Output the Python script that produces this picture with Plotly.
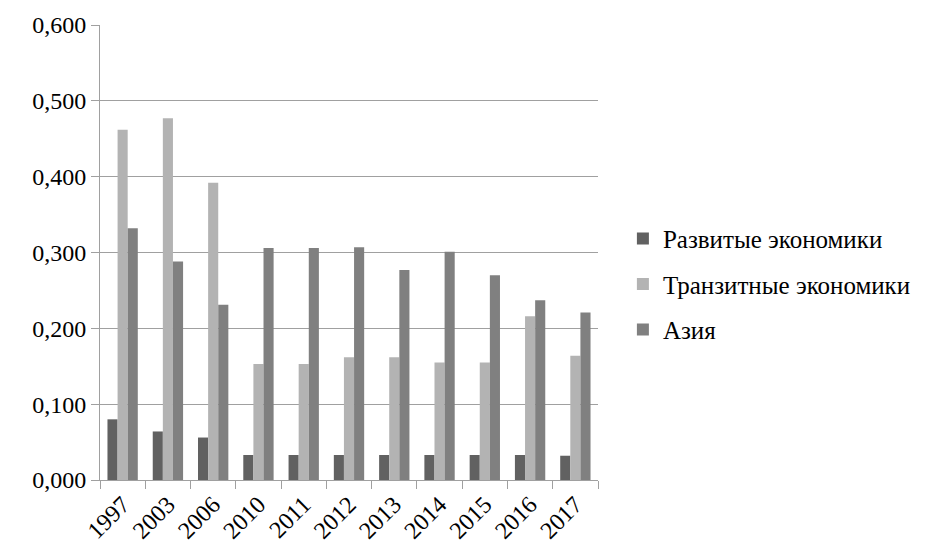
import plotly.graph_objects as go

years = ["1997", "2003", "2006", "2010", "2011", "2012", "2013", "2014", "2015", "2016", "2017"]
developed = [0.080, 0.064, 0.056, 0.033, 0.033, 0.033, 0.033, 0.033, 0.033, 0.033, 0.032]
transition = [0.462, 0.477, 0.392, 0.153, 0.153, 0.162, 0.162, 0.155, 0.155, 0.216, 0.164]
asia = [0.332, 0.288, 0.231, 0.306, 0.306, 0.307, 0.277, 0.301, 0.270, 0.237, 0.221]

names = ["Развитые экономики", "Транзитные экономики", "Азия"]
colors = ["#616161", "#b3b3b3", "#808080"]

fig = go.Figure()
for i, (name, vals, col) in enumerate(zip(names, [developed, transition, asia], colors)):
    fig.add_trace(go.Bar(x=years, y=vals, name=name, marker_color=col,
                         marker_line_width=0, legendgroup=str(i)))

font = "Liberation Serif, DejaVu Serif, serif"
fig.update_layout(
    template="none",
    width=920, height=539,
    margin=dict(l=92, r=328, t=17, b=67),
    paper_bgcolor="white", plot_bgcolor="white",
    barmode="group", bargap=0.33, bargroupgap=0,
    separators=", ",
    font=dict(family=font, size=24, color="black"),
    showlegend=True,
    legend=dict(x=1.05, y=0.43, xanchor="left", yanchor="middle",
                traceorder="grouped", tracegroupgap=10,
                font=dict(family=font, size=25, color="black"),
                itemwidth=30),
)
fig.update_yaxes(range=[0, 0.6], dtick=0.1, tickformat=".3f",
                 showgrid=True, gridcolor="#a0a0a0", gridwidth=1,
                 showline=True, linecolor="#a0a0a0", linewidth=1,
                 ticks="outside", ticklen=8, tickcolor="#a0a0a0",
                 zeroline=False, automargin=False,
                 tickfont=dict(family=font, size=24))
fig.update_xaxes(type="category", showgrid=False,
                 showline=True, linecolor="#a0a0a0", linewidth=1,
                 ticks="outside", ticklen=8, tickcolor="#a0a0a0",
                 tickson="boundaries", tickangle=-45, automargin=False,
                 tickfont=dict(family=font, size=24))

fig.write_html("out.html")
